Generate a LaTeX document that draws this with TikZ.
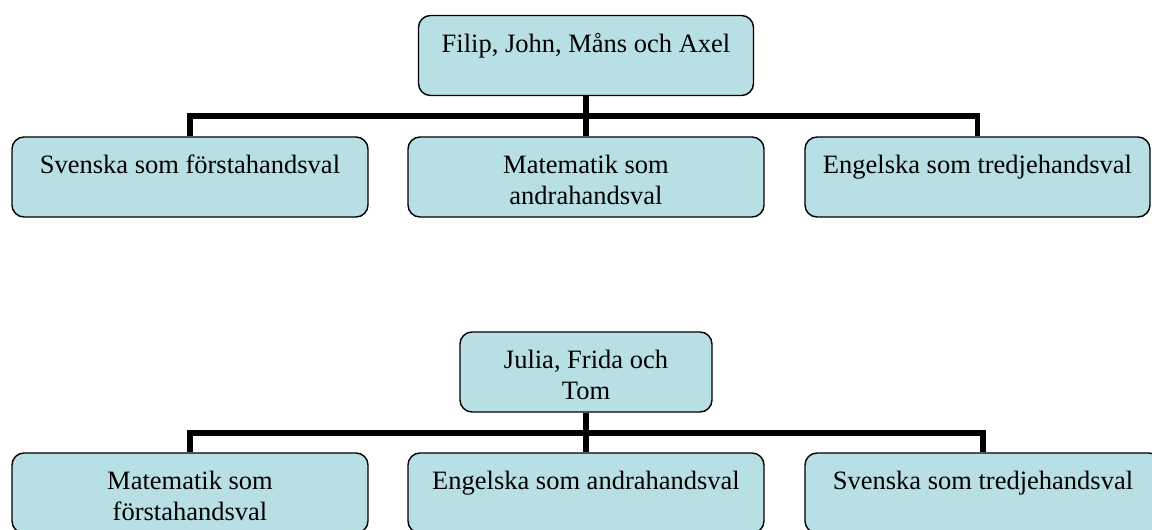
\documentclass[tikz,border=0pt]{standalone}
\usepackage{fontspec}
\setmainfont{Liberation Serif}
\usetikzlibrary{positioning}
\definecolor{cellfill}{RGB}{184,223,228}
\tikzset{link/.style={line width=5.5pt},
  cell/.style={draw, fill=cellfill, line width=1.4pt, rounded corners=12pt, inner sep=0pt}}
\newcommand{\celltext}[2]{\parbox[c][80pt][t]{#1}{\centering\vspace*{18pt}#2}}

\begin{document}
\begin{tikzpicture}[x=1pt, y=-1pt, font=\fontsize{26.5}{31}\selectfont]
  \useasboundingbox (0,0) rectangle (1152,530);
  % first group
  \node[cell] (grp1) at (586,55.5) {\celltext{335pt}{Filip, John, Måns och Axel}};
  \node[cell] (sv1) at (190,177) {\celltext{356pt}{Svenska som förstahandsval}};
  \node[cell] (ma1) at (586,177) {\celltext{356pt}{Matematik som\\andrahandsval}};
  \node[cell] (en1) at (977.5,177) {\celltext{345pt}{Engelska som tredjehandsval}};
  \coordinate (bus1) at (586,116);
  \draw[link] (sv1.north) |- (bus1) -| (en1.north);
  \draw[link] (grp1.south) -- (ma1.north);
  % second group
  \node[cell] (grp2) at (586,372) {\celltext{252pt}{Julia, Frida och\\Tom}};
  \node[cell] (ma2) at (190,493) {\celltext{356pt}{Matematik som\\förstahandsval}};
  \node[cell] (en2) at (586,493) {\celltext{356pt}{Engelska som andrahandsval}};
  \node[cell] (sv2) at (983,493) {\celltext{356pt}{Svenska som tredjehandsval}};
  \coordinate (bus2) at (586,433);
  \draw[link] (ma2.north) |- (bus2) -| (sv2.north);
  \draw[link] (grp2.south) -- (en2.north);
\end{tikzpicture}
\end{document}
